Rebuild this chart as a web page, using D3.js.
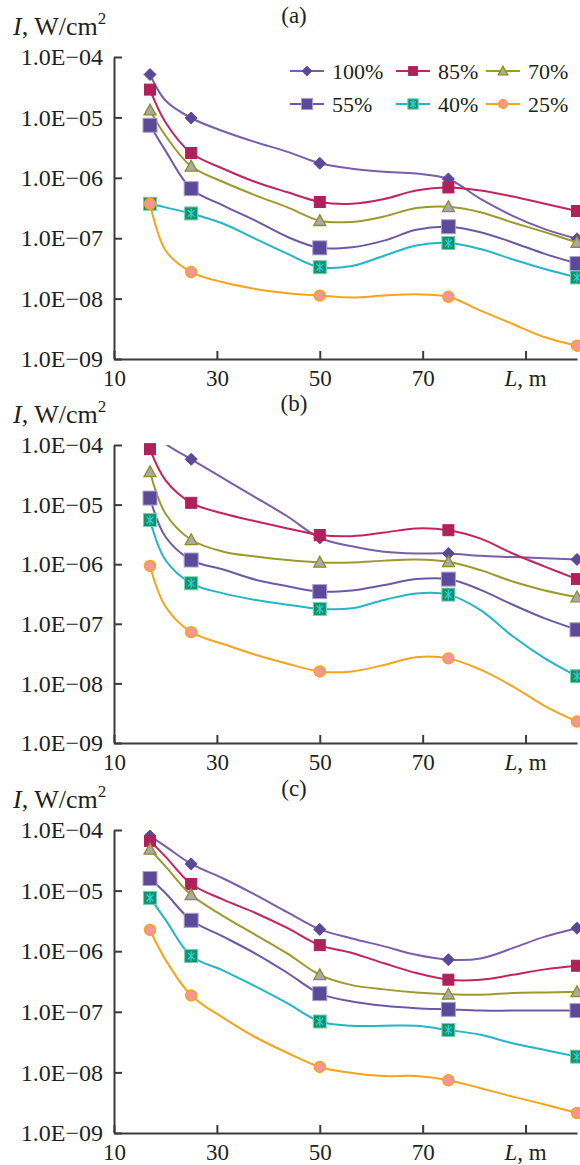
<!DOCTYPE html>
<html>
<head>
<meta charset="utf-8">
<script src="https://cdn.jsdelivr.net/npm/d3@7"></script>
<style>
    body { margin: 0; background: #fff; }
    svg text { font-family: "Liberation Serif", "Times New Roman", serif; fill: #231f20; }
</style>
</head>
<body>
<div class="chart"></div>
<script>
// #region Data
// distance L, m (lines go through every entry, markers only on the measured ones)
const distances = [17, 20, 25, 31.25, 37.5, 43.75, 50, 56.25, 62.5, 68.75, 75, 81.25, 87.5, 93.75, 100];
const markedDistances = [17, 25, 50, 75, 100];
const seriesNames = ["100%", "85%", "70%", "55%", "40%", "25%"];
const panelNames = ["(a)", "(b)", "(c)"];
const yTickExponents = [-4, -5, -6, -7, -8, -9];
const xTickValues = [10, 30, 50, 70, 90];
const xAxisTitle = "L, m";

// log10 of I (W/cm2), one value per entry of distances
// panel (a)
const a100 = [-4.29, -4.72, -5.01, -5.23, -5.41, -5.57, -5.76, -5.85, -5.90, -5.93, -6.02, -6.35, -6.63, -6.85, -7.01];
const a85 = [-4.54, -5.08, -5.59, -5.85, -6.07, -6.24, -6.40, -6.43, -6.35, -6.21, -6.16, -6.21, -6.31, -6.43, -6.55];
const a70 = [-4.88, -5.30, -5.81, -6.07, -6.29, -6.49, -6.71, -6.73, -6.64, -6.50, -6.48, -6.57, -6.74, -6.90, -7.07];
const a55 = [-5.13, -5.55, -6.18, -6.46, -6.71, -6.98, -7.16, -7.15, -7.04, -6.86, -6.81, -6.90, -7.07, -7.26, -7.42];
const a40 = [-6.43, -6.49, -6.59, -6.76, -7.01, -7.26, -7.48, -7.46, -7.29, -7.12, -7.08, -7.18, -7.35, -7.51, -7.65];
const a25 = [-6.43, -7.20, -7.56, -7.73, -7.84, -7.91, -7.95, -7.98, -7.95, -7.93, -7.97, -8.20, -8.42, -8.64, -8.78];
// panel (b)
const b100 = [-3.75, -3.98, -4.24, -4.56, -4.88, -5.20, -5.56, -5.70, -5.79, -5.82, -5.82, -5.86, -5.88, -5.90, -5.92];
const b85 = [-4.07, -4.59, -4.97, -5.15, -5.28, -5.40, -5.51, -5.53, -5.47, -5.40, -5.43, -5.57, -5.82, -6.04, -6.25];
const b70 = [-4.45, -5.15, -5.59, -5.79, -5.87, -5.93, -5.97, -5.97, -5.94, -5.92, -5.96, -6.10, -6.29, -6.44, -6.55];
const b55 = [-4.89, -5.54, -5.93, -6.09, -6.26, -6.37, -6.46, -6.44, -6.35, -6.25, -6.25, -6.43, -6.68, -6.91, -7.10];
const b40 = [-5.26, -5.93, -6.32, -6.49, -6.60, -6.68, -6.75, -6.74, -6.60, -6.49, -6.51, -6.77, -7.21, -7.58, -7.88];
const b25 = [-6.03, -6.71, -7.14, -7.34, -7.52, -7.67, -7.80, -7.80, -7.69, -7.56, -7.58, -7.77, -8.05, -8.38, -8.64];
// panel (c)
const c100 = [-4.10, -4.27, -4.56, -4.80, -5.07, -5.36, -5.64, -5.79, -5.92, -6.06, -6.14, -6.12, -5.95, -5.76, -5.62];
const c85 = [-4.18, -4.44, -4.89, -5.15, -5.37, -5.62, -5.90, -6.03, -6.20, -6.36, -6.47, -6.47, -6.39, -6.30, -6.24];
const c70 = [-4.32, -4.60, -5.07, -5.42, -5.73, -6.04, -6.39, -6.56, -6.63, -6.68, -6.71, -6.72, -6.69, -6.68, -6.67];
const c55 = [-4.80, -5.04, -5.49, -5.76, -6.04, -6.36, -6.70, -6.83, -6.90, -6.94, -6.96, -6.98, -6.98, -6.98, -6.98];
const c40 = [-5.12, -5.48, -6.08, -6.32, -6.58, -6.86, -7.16, -7.23, -7.23, -7.23, -7.30, -7.38, -7.52, -7.63, -7.74];
const c25 = [-5.65, -6.14, -6.73, -7.10, -7.42, -7.68, -7.91, -8.01, -8.06, -8.06, -8.13, -8.26, -8.40, -8.53, -8.67];

const panelSeries = [
    [a100, a85, a70, a55, a40, a25],
    [b100, b85, b70, b55, b40, b25],
    [c100, c85, c70, c55, c40, c25]
];
// #endregion

// #region Styles
const seriesStyle = [
    { line: "#7a5dab", shape: "diamond", fill: "#5c4897", stroke: "#5c4897", size: 12 },
    { line: "#c3245f", shape: "square", fill: "#b0205a", stroke: "#b0205a", size: 11 },
    { line: "#9c9a2d", shape: "triangle", fill: "#a9a9a9", stroke: "#8e8c25", size: 12 },
    { line: "#6e58a6", shape: "square", fill: "#5c4999", stroke: "#a99fd2", size: 14 },
    { line: "#21b6c8", shape: "cross", fill: "#13936a", stroke: "#74cfb0", size: 13 },
    { line: "#f8a41b", shape: "circle", fill: "#f59595", stroke: "#f7a21b", size: 11 }
];
const width = 580, height = 1165;
const plotLeft = 114, plotRight = 577;
const panelTop = [57, 445, 830];
const panelBottom = [359, 743, 1133];
// #endregion

const svg = d3.select(".chart").append("svg")
    .attr("width", width)
    .attr("height", height);

const xScale = d3.scaleLinear().domain([10, 100]).range([plotLeft, plotRight]);

function drawMarker(g, shape, x, y, size, st) {
    let r = size / 2;
    if (shape == "diamond") {
        g.append("path")
            .attr("d", `M${x},${y - r}L${x + r},${y}L${x},${y + r}L${x - r},${y}Z`)
            .attr("fill", st.fill).attr("stroke", st.stroke).attr("stroke-width", 1);
    } else if (shape == "square" || shape == "cross") {
        g.append("rect")
            .attr("x", x - r).attr("y", y - r)
            .attr("width", size).attr("height", size)
            .attr("fill", st.fill).attr("stroke", st.stroke).attr("stroke-width", 1);
        if (shape == "cross") {
            let c = r * 0.75;
            g.append("path")
                .attr("d", `M${x},${y - c}V${y + c}M${x - c * 0.7},${y - c * 0.7}L${x + c * 0.7},${y + c * 0.7}M${x + c * 0.7},${y - c * 0.7}L${x - c * 0.7},${y + c * 0.7}`)
                .attr("stroke", "#2fd0dc").attr("stroke-width", 1.2).attr("fill", "none");
        }
    } else if (shape == "triangle") {
        g.append("path")
            .attr("d", `M${x},${y - r}L${x + r},${y + r * 0.8}L${x - r},${y + r * 0.8}Z`)
            .attr("fill", st.fill).attr("stroke", st.stroke).attr("stroke-width", 1.3);
    } else {
        g.append("circle")
            .attr("cx", x).attr("cy", y).attr("r", r)
            .attr("fill", st.fill).attr("stroke", st.stroke).attr("stroke-width", 1.4);
    }
}

function expLabel(e) {
    return "1.0E\u22120" + Math.abs(e);
}

// #region Panels
panelSeries.forEach((series, p) => {
    let top = panelTop[p], bottom = panelBottom[p];
    let yScale = d3.scaleLog().domain([1e-9, 1e-4]).range([bottom, top]);
    let gPanel = svg.append("g").attr("class", "panel" + p);

    gPanel.append("clipPath").attr("id", "clip" + p)
        .append("rect")
        .attr("x", plotLeft).attr("y", top)
        .attr("width", width - plotLeft).attr("height", bottom - top);

    // axes
    let gY = gPanel.append("g")
        .attr("class", "yScale")
        .attr("transform", `translate(${plotLeft},0)`)
        .call(d3.axisLeft(yScale)
            .tickValues(yTickExponents.map(e => Math.pow(10, e)))
            .tickFormat(d => expLabel(Math.round(Math.log10(d))))
            .tickSizeInner(-8).tickSizeOuter(0).tickPadding(11));
    gY.selectAll("text").attr("font-size", 24).attr("font-family", "Liberation Serif").attr("fill", "#231f20");

    let gX = gPanel.append("g")
        .attr("class", "xScale")
        .attr("transform", `translate(0,${bottom})`)
        .call(d3.axisBottom(xScale)
            .tickValues(xTickValues)
            .tickFormat(d => d == 90 ? "" : d)
            .tickSizeInner(-8).tickSizeOuter(0).tickPadding(11));
    gX.selectAll("text").attr("font-size", 23).attr("font-family", "Liberation Serif").attr("fill", "#231f20");

    gPanel.selectAll(".domain, .tick line").attr("stroke", "#3b3b3b").attr("stroke-width", 2);

    gPanel.append("text")
        .attr("x", xScale(90)).attr("y", bottom + 27)
        .attr("text-anchor", "middle").attr("font-size", 23)
        .call(t => {
            t.append("tspan").attr("font-style", "italic").text(xAxisTitle.split(",")[0]);
            t.append("tspan").text("," + xAxisTitle.split(",")[1]);
        });

    // titles
    gPanel.append("text")
        .attr("x", 294).attr("y", top - 34)
        .attr("text-anchor", "middle").attr("font-size", 23)
        .text(panelNames[p]);
    gPanel.append("text")
        .attr("x", 13).attr("y", top - 22)
        .attr("font-size", 26)
        .call(t => {
            t.append("tspan").attr("font-style", "italic").text("I");
            t.append("tspan").text(", W/cm");
            t.append("tspan").attr("font-size", 17).attr("dy", -11).text("2");
        });

    // series
    series.forEach((vals, s) => {
        let st = seriesStyle[s];
        let pts = distances.map((d, i) => ({ L: d, v: Math.pow(10, vals[i]) }));
        let line = d3.line()
            .x(d => xScale(d.L))
            .y(d => yScale(d.v))
            .curve(d3.curveCatmullRom.alpha(0.5));
        gPanel.append("path")
            .datum(pts)
            .attr("clip-path", `url(#clip${p})`)
            .attr("d", line)
            .attr("fill", "none")
            .attr("stroke", st.line)
            .attr("stroke-width", 2);
        let gMarks = gPanel.append("g").attr("class", "marks" + s);
        pts.filter(d => markedDistances.includes(d.L) && d.v <= 1.05e-4)
            .forEach(d => drawMarker(gMarks, st.shape, xScale(d.L), yScale(d.v), st.size, st));
    });
});
// #endregion

// #region Legend
const legendX = [290, 396, 486];
const legendY = [71, 104];
let gLegend = svg.append("g").attr("class", "legend");
seriesNames.forEach((name, i) => {
    let st = seriesStyle[i];
    let x0 = legendX[i % 3], y0 = legendY[Math.floor(i / 3)];
    gLegend.append("line")
        .attr("x1", x0).attr("x2", x0 + 34)
        .attr("y1", y0).attr("y2", y0)
        .attr("stroke", st.line).attr("stroke-width", 2);
    drawMarker(gLegend, st.shape, x0 + 17, y0, st.size * 0.8, st);
    gLegend.append("text")
        .attr("x", x0 + 42).attr("y", y0)
        .attr("dy", "0.35em")
        .attr("font-size", 22)
        .text(name);
});
// #endregion
</script>
</body>
</html>
